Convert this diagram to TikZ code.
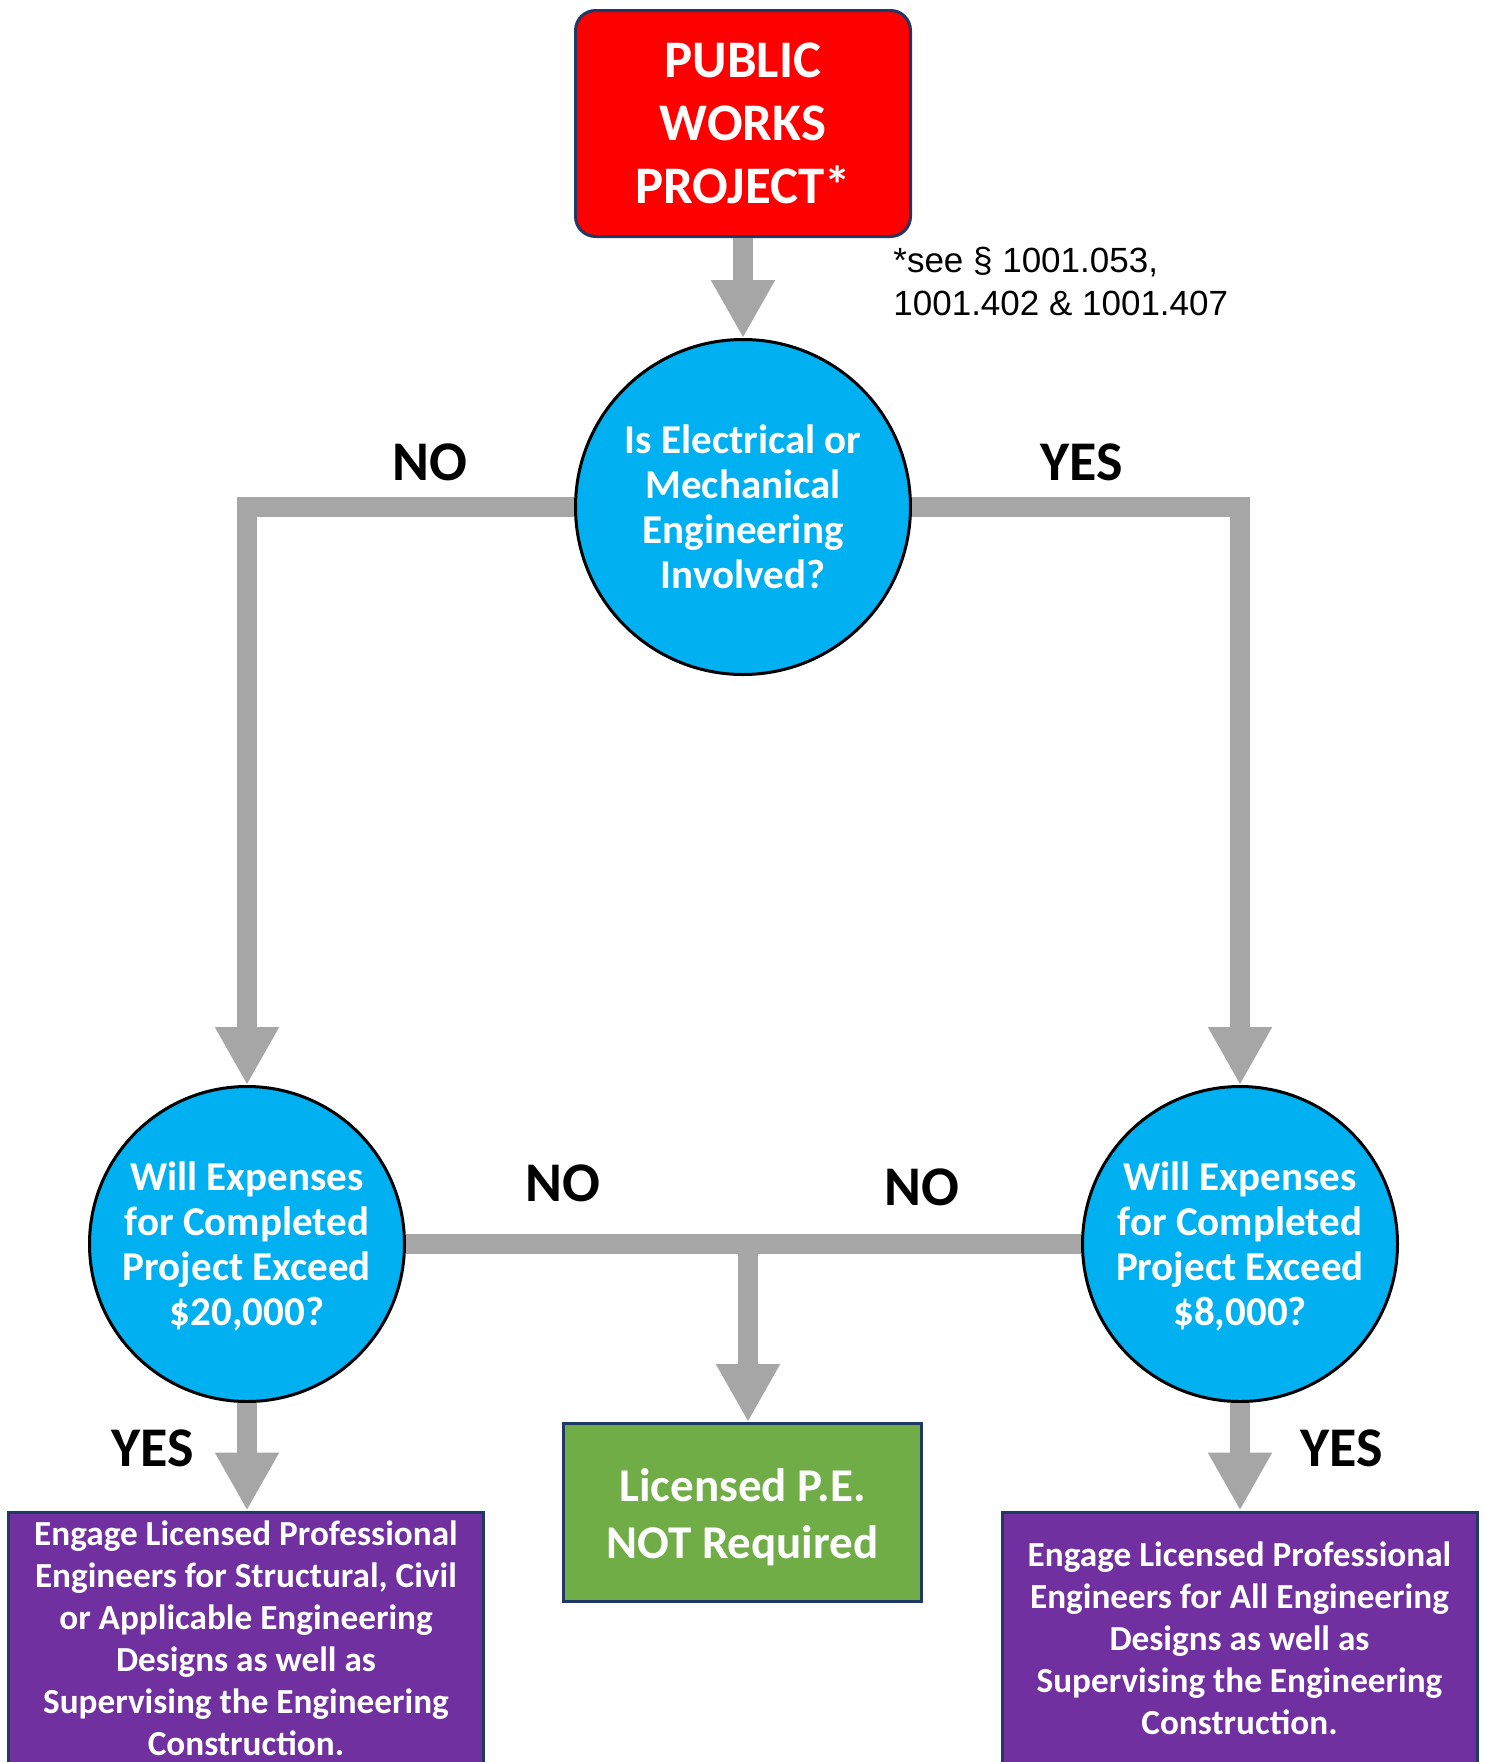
\documentclass[tikz,border=0pt]{standalone}
\usepackage{fontspec}
\setmainfont{Carlito}
\newfontfamily\notefont{Liberation Sans}
\usetikzlibrary{arrows.meta,positioning}

\definecolor{startred}{HTML}{FF0000}
\definecolor{edgenavy}{HTML}{1F3864}
\definecolor{askblue}{HTML}{00B0F0}
\definecolor{okgreen}{HTML}{70AD47}
\definecolor{engpurple}{HTML}{7030A0}
\definecolor{pipegray}{HTML}{A6A6A6}

\begin{document}
\begin{tikzpicture}[
	x=0.5pt, y=-0.5pt,
	start/.style={draw=edgenavy, fill=startred, line width=1.5pt, rounded corners=10pt, minimum width=167.5pt, minimum height=113pt, inner sep=0pt, text=white, align=center, font=\bfseries\fontsize{26.4pt}{31.5pt}\selectfont},
	question/.style={circle, draw=black, fill=askblue, line width=1.5pt, inner sep=0pt, text=white, align=center, font=\bfseries\fontsize{20.5pt}{22.5pt}\selectfont},
	outcome/.style={rectangle, draw=edgenavy, line width=1.5pt, inner sep=0pt, text=white, align=center},
	answer/.style={inner sep=0pt, font=\bfseries\fontsize{28pt}{33pt}\selectfont},
	pipe/.style={draw=pipegray, line width=10pt},
	]
	
	\useasboundingbox (0,0) rectangle (1484,1762);
	
	%-----------------------
	% Customizable positions
	%-----------------------
	\def\xmid{743}
	\def\xleft{247}
	\def\xright{1240}
	\def\hstart{123.5}
	\def\hask{507}
	\def\hcost{1244}
	\def\hnone{1512.5}
	\def\hengage{1638}
	
	%-----------------------
	% Row 1: start
	%-----------------------
	\node[start] (Start) at (\xmid,\hstart) {PUBLIC\\WORKS\\PROJECT*};
	\node[anchor=west, inner sep=0pt, align=left, font=\notefont\fontsize{17.5pt}{21.5pt}\selectfont] (Note) at (893,281) {*see § 1001.053,\\1001.402 \& 1001.407};
	
	%-----------------------
	% Row 2: first question
	%-----------------------
	\node[question, minimum size=167.5pt] (Ask) at (\xmid,\hask) {Is Electrical or\\Mechanical\\Engineering\\Involved?};
	
	\node[answer] (No-1) at (430,462) {NO};
	\node[answer] (Yes-1) at (1082,462) {YES};
	
	%-----------------------
	% Row 3: cost questions
	%-----------------------
	\node[question, minimum size=157.5pt] (CostL) at (\xleft,\hcost) {\rule{0pt}{17pt}Will Expenses\\for Completed\\Project Exceed\\\$20,000?};
	\node[question, minimum size=157.5pt] (CostR) at (\xright,\hcost) {\rule{0pt}{17pt}Will Expenses\\for Completed\\Project Exceed\\\$8,000?};
	
	\node[answer] (No-2) at (563,1183) {NO};
	\node[answer] (No-3) at (922,1187) {NO};
	\node[answer] (Yes-2) at (153,1448) {YES};
	\node[answer] (Yes-3) at (1342,1448) {YES};
	
	%-----------------------
	% Row 4: outcomes
	%-----------------------
	\node[outcome, fill=okgreen, minimum width=179pt, minimum height=89pt, font=\bfseries\fontsize{23.5pt}{28.5pt}\selectfont] (None) at (742.5,\hnone) {\rule{0pt}{21pt}Licensed P.E.\\NOT Required};
	\node[outcome, fill=engpurple, minimum width=237.5pt, minimum height=126pt, font=\bfseries\fontsize{17.6pt}{21pt}\selectfont] (EngL) at (246,\hengage) {Engage Licensed Professional\\Engineers for Structural, Civil\\or Applicable Engineering\\Designs as well as\\Supervising the Engineering\\Construction.};
	\node[outcome, fill=engpurple, minimum width=237.5pt, minimum height=126pt, font=\bfseries\fontsize{17.6pt}{21pt}\selectfont] (EngR) at (1239.5,\hengage) {Engage Licensed Professional\\Engineers for All Engineering\\Designs as well as\\Supervising the Engineering\\Construction.};
	
	%-----------------------
	% Connections
	%-----------------------
	\tikzset{flow/.style={pipe,-{Triangle[length=29pt,width=30pt]}}}
	
	% Start -> first question
	\draw[flow] (Start.south) -- (Ask.north);
	
	% First question -> cost questions
	\draw[flow] (Ask.west) -| (CostL.north);
	\draw[flow] (Ask.east) -| (CostR.north);
	
	% NO branches -> P.E. not required
	\draw[pipe] (CostL.east) -- (CostR.west);
	\coordinate (Split) at (748,\hcost);
	\draw[flow] (Split) -- (Split |- None.north);
	
	% YES branches -> engage P.E.
	\draw[flow] (CostL.south) -- (CostL.south |- EngL.north);
	\draw[flow] (CostR.south) -- (CostR.south |- EngR.north);
	
\end{tikzpicture}
\end{document}
